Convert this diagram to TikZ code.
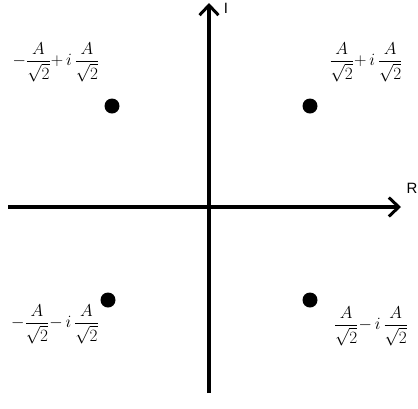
\documentclass[tikz,border=0pt]{standalone}
\usepackage{amsmath}
\usepackage{fontspec}
\newfontfamily\axfont{Liberation Sans}
\usetikzlibrary{arrows.meta}
\begin{document}
\begin{tikzpicture}[x=1bp,y=-1bp,
  axis/.style={line width=3.5bp,-{Straight Barb[length=10bp,width=19bp,line width=3bp]}},
  pt/.style={circle,fill=black,inner sep=0pt,minimum size=15bp},
  lab/.style={font=\fontsize{16.5}{19}\selectfont,inner sep=0pt},
  axlab/.style={font=\axfont\fontsize{15}{17}\selectfont,inner sep=0pt}]
\useasboundingbox (0,0) rectangle (418,409);
\coordinate (xl) at (8,207);
\coordinate (xr) at (401,207);
\coordinate (yb) at (209,393);
\coordinate (yt) at (209,3);
\draw[axis] (xl) -- (xr);
\draw[axis] (yb) -- (yt);
\node[axlab] (R) at (412,188) {R};
\node[axlab] (I) at (226,8) {I};
\node[pt] (p1) at (112,106) {};
\node[pt] (p2) at (310,106) {};
\node[pt] (p3) at (108,300) {};
\node[pt] (p4) at (310,300) {};
\node[lab] (l1) at (56,62) {$-\dfrac{A}{\sqrt{2}}{+}\,i\,\dfrac{A}{\sqrt{2}}$};
\node[lab] (l2) at (366,62) {$\dfrac{A}{\sqrt{2}}{+}\,i\,\dfrac{A}{\sqrt{2}}$};
\node[lab] (l3) at (55,324) {$-\dfrac{A}{\sqrt{2}}{-}\,i\,\dfrac{A}{\sqrt{2}}$};
\node[lab] (l4) at (371,326) {$\dfrac{A}{\sqrt{2}}{-}\,i\,\dfrac{A}{\sqrt{2}}$};
\end{tikzpicture}
\end{document}
